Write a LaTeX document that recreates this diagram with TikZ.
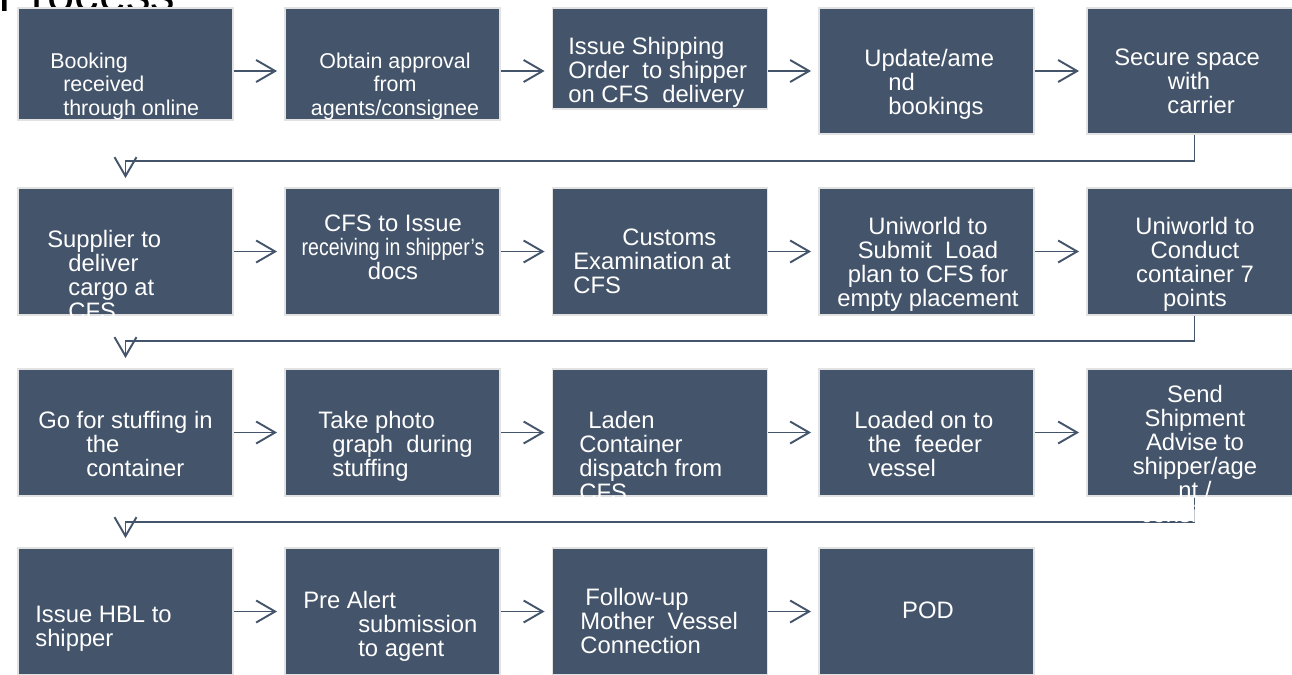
\documentclass[tikz,border=0pt]{standalone}
\usepackage{xcolor}
\usepackage{graphicx}
\usepackage{fontspec}
\setmainfont{Liberation Sans}
\usepackage{tikz}
\usetikzlibrary{arrows.meta}
\definecolor{slate}{HTML}{44546A}
\definecolor{rim}{HTML}{E2E2E2}
\newcommand{\boxfont}{\fontsize{13.55pt}{13.66pt}\selectfont}
\newcommand{\smallboxfont}{\fontsize{12.2pt}{13.3pt}\selectfont}
\tikzset{
  stepbox/.style={fill=slate, draw=rim, line width=1.1pt, minimum width=4.30cm, inner sep=0pt},
  txt/.style={text=white, font=\boxfont, inner sep=0pt, align=left, anchor=north west},
  ctxt/.style={txt, align=center, anchor=north},
  flow/.style={draw=slate, line width=1.1pt, -{Straight Barb[length=0.38cm,width=0.44cm]}},
}

\begin{document}
\begin{tikzpicture}[x=0.02cm, y=-0.02cm]
\clip (0,0) rectangle (1292,674);
\node[anchor=base west, inner sep=0pt, font=\fontsize{27.9pt}{30pt}\selectfont] (title) at (-2,11) {Process};

\node[stepbox, minimum height=2.24cm] (b1) at (125.5,64) {};
\node[stepbox, minimum height=2.24cm] (b2) at (392.5,64) {};
\node[stepbox, minimum height=2.02cm] (b3) at (660,58.5) {};
\node[stepbox, minimum height=2.52cm] (b4) at (926.5,71) {};
\node[stepbox, minimum height=2.52cm] (b5) at (1194.5,71) {};
\foreach \n/\x/\y in {6/125.5/251.5, 7/392.5/251.5, 8/660/251.5, 9/926.5/251.5, 10/1194.5/251.5,
  11/125.5/432.5, 12/392.5/432.5, 13/660/432.5, 14/926.5/432.5, 15/1194.5/432.5,
  16/125.5/611.5, 17/392.5/611.5, 18/660/611.5, 19/926.5/611.5} {
 \node[stepbox, minimum height=2.54cm] (b\n) at (\x,\y) {};
}

\coordinate (r1) at (0,71);
\coordinate (r2) at (0,251.5);
\coordinate (r3) at (0,432.5);
\coordinate (r4) at (0,611.5);
\foreach \a/\b/\r in {1/2/1, 2/3/1, 3/4/1, 4/5/1, 6/7/2, 7/8/2, 8/9/2, 9/10/2,
  11/12/3, 12/13/3, 13/14/3, 14/15/3, 16/17/4, 17/18/4, 18/19/4} {
 \draw[flow, shorten >=0.14cm] (b\a.east |- r\r) -- (b\b.west |- r\r);
}

\coordinate (c1) at ([yshift=0.18cm]b6.north);
\coordinate (c2) at ([yshift=0.2cm]b11.north);
\coordinate (c3) at ([yshift=0.18cm]b16.north);
\draw[flow] (b5.south) -- ++(0,26) -| (c1);
\draw[flow] (b10.south) -- ++(0,25.5) -| (c2);
\draw[flow] (b15.south) -- ++(0,25) -| (c3);

\node[txt, font=\smallboxfont] (t1) at (50,52.6) {Booking\\\hspace*{0.26cm}received\\\hspace*{0.26cm}through online};
\node[ctxt, font=\smallboxfont] (t2) at (395,52.6) {Obtain approval\\from\\agents/consignee};
\node[txt] (t3) at (568,36.9) {Issue Shipping\\Order\ \ to shipper\\on CFS\ \ delivery};
\node[txt] (t4) at (864,48.9) {Update/ame\\\hspace*{0.48cm}nd\\\hspace*{0.48cm}bookings};
\node[txt] (t5) at (1114,48.9) {Secure space\\\hspace*{1.07cm}with\\\hspace*{1.06cm}carrier};
\node[txt] (t6) at (47,229.4) {Supplier to\\\hspace*{0.42cm}deliver\\\hspace*{0.42cm}cargo at\\\hspace*{0.42cm}CFS};
\node[ctxt] (t7) at (393,214.9) {CFS to Issue\\\scalebox{0.82}[1]{receiving in shipper’s}\\docs};
\node[txt] (t8) at (573,228.9) {\hspace*{0.98cm}Customs\\Examination at\\CFS};
\node[ctxt] (t9) at (928,216.9) {Uniworld to\\Submit\ \ Load\\plan to CFS for\\empty placement};
\node[ctxt] (t10) at (1195,216.9) {Uniworld to\\Conduct\\container 7\\points};
\node[txt] (t11) at (38,410.9) {Go for stuffing in\\\hspace*{0.96cm}the\\\hspace*{0.96cm}container};
\node[txt] (t12) at (318,410.9) {Take photo\\\hspace*{0.28cm}graph\ \ during\\\hspace*{0.28cm}stuffing};
\node[txt] (t13) at (579,410.9) {\hspace*{0.18cm}Laden\\Container\\dispatch from\\CFS};
\node[txt] (t14) at (854,410.9) {Loaded on to\\\hspace*{0.28cm}the\ \ feeder\\\hspace*{0.28cm}vessel};
\node[ctxt] (t15) at (1195,384.9) {Send\\Shipment\\Advise to\\shipper/age\\nt /\\consignee};
\node[txt] (t16) at (35,605.9) {Issue HBL to\\shipper};
\node[txt] (t17) at (303,590.9) {Pre Alert\\\hspace*{1.1cm}submission\\\hspace*{1.1cm}to agent};
\node[txt] (t18) at (580,588) {\hspace*{0.1cm}Follow-up\\Mother\ \ Vessel\\Connection};
\node[ctxt] (t19) at (928,601.9) {POD};
\end{tikzpicture}
\end{document}
